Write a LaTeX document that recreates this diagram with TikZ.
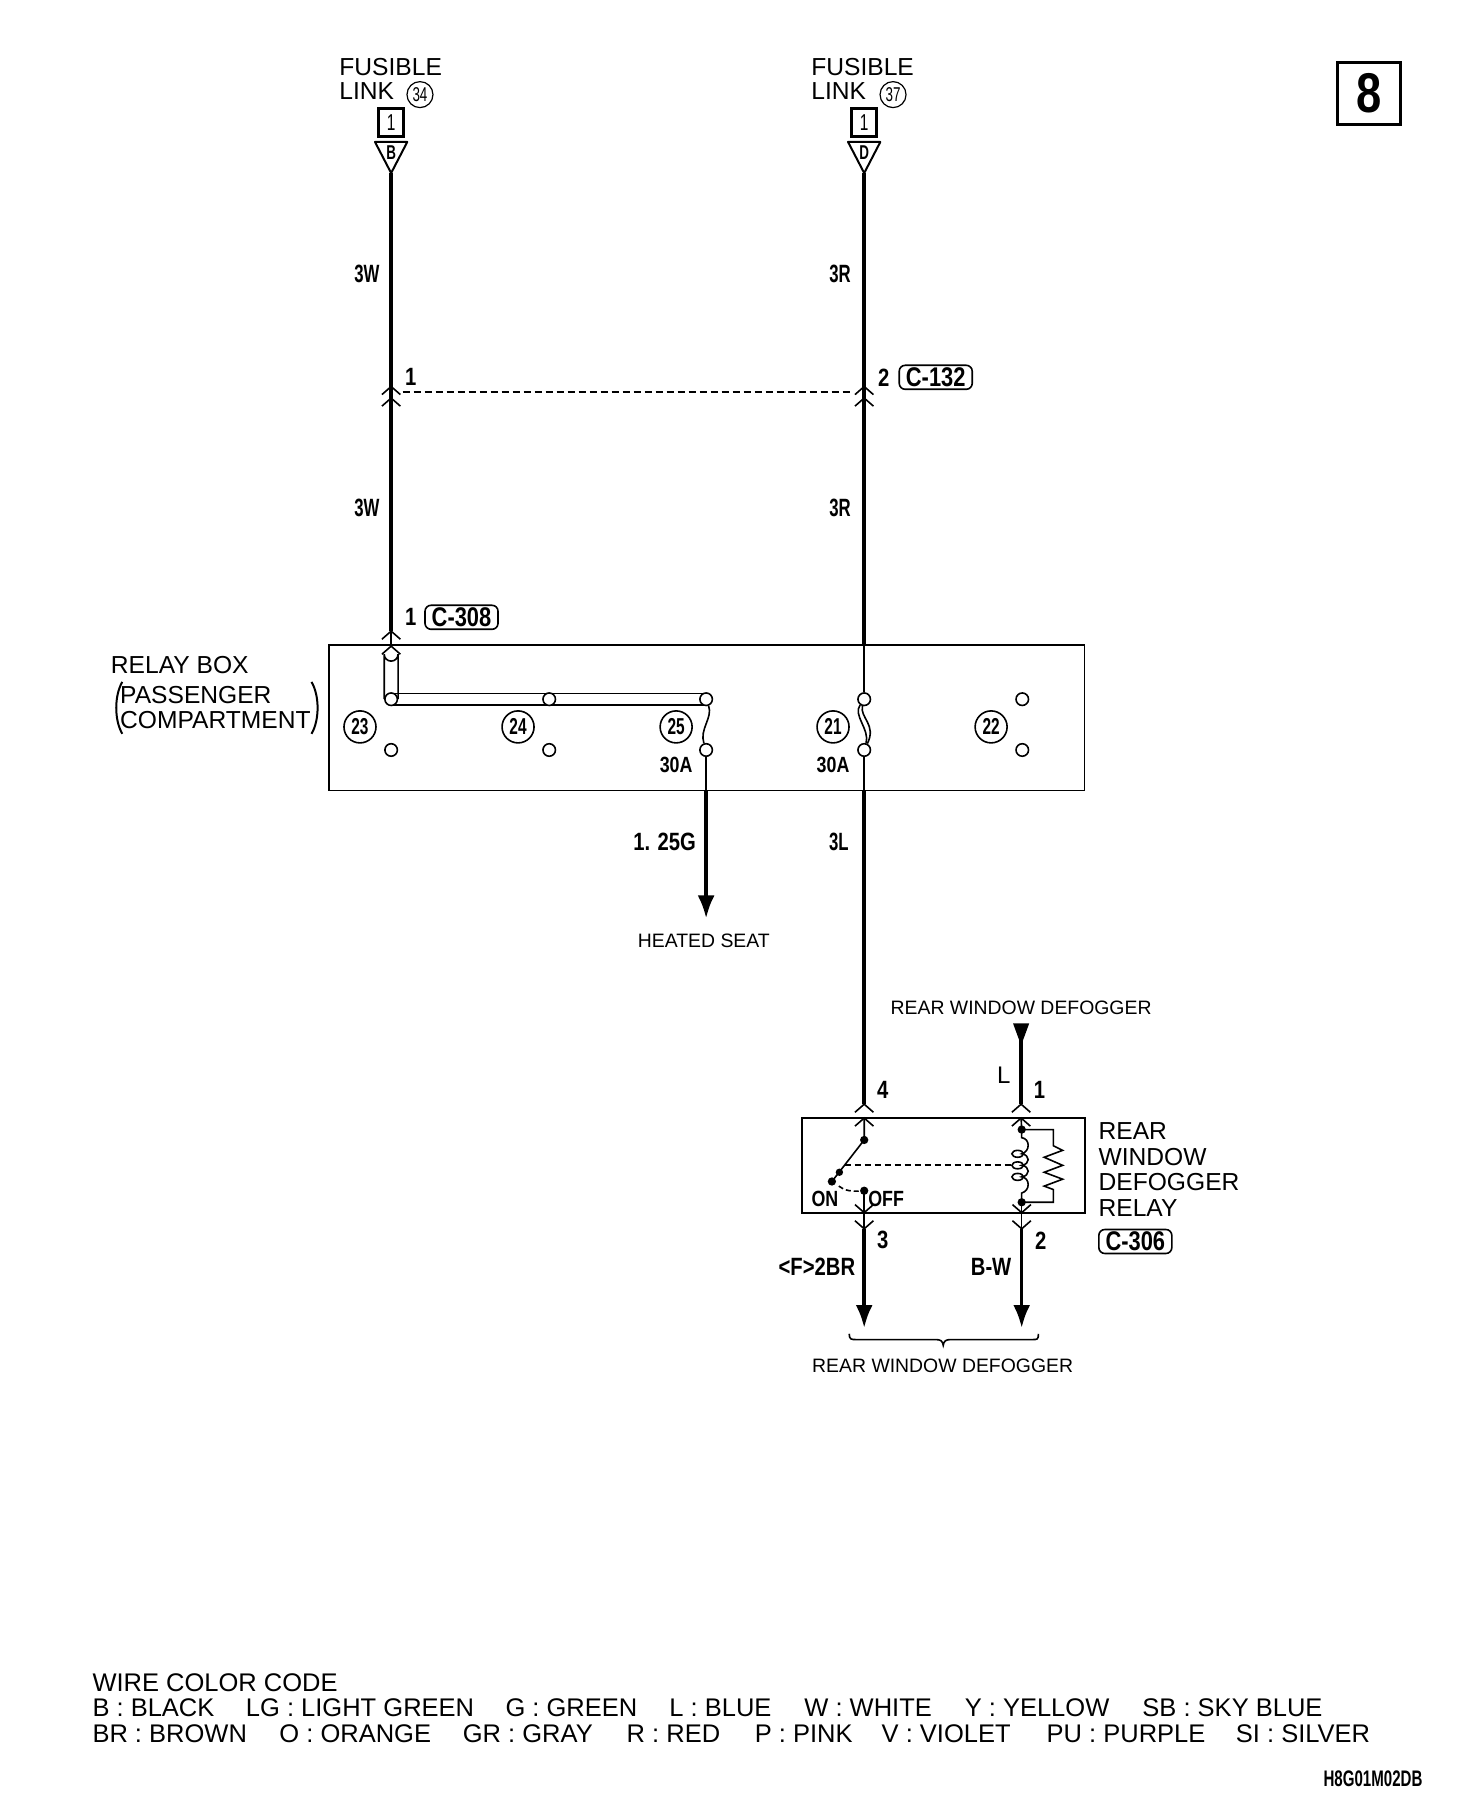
\documentclass[tikz,border=0pt]{standalone}
\usepackage{fontspec}
\setmainfont{Liberation Sans}
\newfontfamily\narrowfont[FakeStretch=0.67]{Liberation Sans}
\newfontfamily\midfont[FakeStretch=0.81]{Liberation Sans}
\usetikzlibrary{arrows.meta}
\tikzset{
  wire/.style={line width=3.6pt},
  conn/.style={line width=1.6pt},
  endtip/.style={-{Latex[length=23pt,width=17pt]}},
  term/.style={circle,draw,fill=white,line width=1.6pt,inner sep=0pt,minimum size=12.5pt},
  cnum/.style={circle,draw,line width=1.6pt,inner sep=0pt,minimum size=32pt,font=\narrowfont\bfseries\fontsize{23}{23}\selectfont},
  cnumsm/.style={circle,draw,line width=1.2pt,inner sep=0pt,minimum size=26pt,font=\narrowfont\fontsize{20}{20}\selectfont},
  lbl/.style={inner sep=0pt,font=\narrowfont\bfseries\fontsize{25}{25}\selectfont},
  midlbl/.style={inner sep=0pt,font=\midfont\bfseries\fontsize{25}{25}\selectfont},
  smlbl/.style={inner sep=0pt,font=\midfont\bfseries\fontsize{22}{22}\selectfont},
  txt/.style={inner sep=0pt,anchor=base west,font=\fontsize{24.6}{24.6}\selectfont},
  smtxt/.style={inner sep=0pt,anchor=base,font=\fontsize{19.4}{19.4}\selectfont},
  legend/.style={inner sep=0pt,anchor=base west,font=\fontsize{25.5}{25.5}\selectfont},
  conbox/.style={draw,rounded corners=6pt,line width=1.6pt,inner sep=0pt,minimum width=73pt,minimum height=24pt,font=\midfont\bfseries\fontsize{27}{27}\selectfont}
}
\newcommand{\chevup}[1]{\draw[conn,shift={(#1)}] (-8,7)--(0,0)--(8,7);}
\newcommand{\chevdown}[1]{\draw[conn,shift={(#1)}] (-8,-7)--(0,0)--(8,-7);}
\begin{document}
\begin{tikzpicture}[x=1.1537pt,y=-1.1537pt]
  \useasboundingbox (0,0) rectangle (1262,1567);

  % page mark
  \node[draw,line width=2.2pt,minimum width=63pt,minimum height=62pt,inner sep=0pt,font=\midfont\bfseries\fontsize{56}{56}\selectfont] (page) at (1186.5,81) {8};

  % fusible links
  \node[txt] (fl34a) at (294,65) {FUSIBLE};
  \node[txt] (fl34b) at (294,86) {LINK};
  \node[cnumsm] (n34) at (364,82) {34};
  \node[draw,line width=2.6pt,inner sep=0pt,minimum width=25pt,minimum height=28pt,font=\narrowfont\fontsize{23}{23}\selectfont] (b34) at (339,106) {1};
  \coordinate (tip34) at (339,150);
  \draw[line width=2pt,line join=round] (325,123)--(353,123)--(tip34)--cycle;
  \node[inner sep=0pt,font=\narrowfont\bfseries\fontsize{20}{20}\selectfont] (tb) at (339,132) {B};

  \node[txt] (fl37a) at (703,65) {FUSIBLE};
  \node[txt] (fl37b) at (703,86) {LINK};
  \node[cnumsm] (n37) at (774,82) {37};
  \node[draw,line width=2.6pt,inner sep=0pt,minimum width=25pt,minimum height=28pt,font=\narrowfont\fontsize{23}{23}\selectfont] (b37) at (749,106) {1};
  \coordinate (tip37) at (749,150);
  \draw[line width=2pt,line join=round] (735,123)--(763,123)--(tip37)--cycle;
  \node[inner sep=0pt,font=\narrowfont\bfseries\fontsize{20}{20}\selectfont] (td) at (749,132) {D};

  % connector C-132
  \coordinate (c1) at (339,335);
  \coordinate (c2) at (749,335);
  \coordinate (c1b) at (339,345);
  \coordinate (c2b) at (749,345);
  \coordinate (c3) at (339,547);
  \coordinate (c3b) at (339,560);
  \coordinate (c4) at (749,559);
  \draw[wire] (tip34)--(c3);
  \draw[wire] (tip37)--(c4);
  \chevup{c1} \chevup{c1b} \chevup{c2} \chevup{c2b}
  \draw[conn,dashed,dash pattern=on 7pt off 4pt] (349,340)--(739,340);
  \node[lbl] (l3w) at (318,237) {3W};
  \node[lbl] (l3r) at (728,237) {3R};
  \node[lbl] (l3w2) at (318,440) {3W};
  \node[lbl] (l3r2) at (728,440) {3R};
  \node[midlbl] (lp1) at (356,327) {1};
  \node[midlbl] (lp2) at (766,327) {2};
  \node[conbox] (c132) at (811,327) {C-132};

  % relay box
  \draw[conn] (285,559) rectangle (940,685);
  \draw[line width=2.2pt] (285,559)--(940,559);
  \node[txt] (rb1) at (96,584) {RELAY BOX};
  \node[txt] (rb2) at (104,610) {PASSENGER};
  \node[txt] (rb3) at (104,631) {COMPARTMENT};
  \draw[line width=2pt] (106,591) .. controls (99,603) and (99,624) .. (106,636);
  \draw[line width=2pt] (270,591) .. controls (277,603) and (277,624) .. (270,636);
  \node[midlbl] (lp3) at (356,535) {1};
  \node[conbox] (c308) at (400,535) {C-308};

  \draw[conn] (c3)--(c3b);
  \chevup{c3} \chevup{c3b}
  \draw[conn] (333,606)--(333,567) arc (180:0:6) --(345,606);
  \draw[conn] (339,601)--(612,601);
  \draw[line width=2.2pt] (339,611)--(612,611);

  \foreach \tname/\tx in {t23/339,t24/476,t25/612,t21/749,t22/886} {
    \node[term] (\tname a) at (\tx,606) {};
    \node[term] (\tname b) at (\tx,650) {};
  }
  \foreach \nname/\nx/\ntext in {n23/312/23,n24/449/24,n25/586/25,n21/722/21,n22/859/22} {
    \node[cnum] (\nname) at (\nx,630) {\ntext};
  }
  \node[smlbl] (f25) at (586,663) {30A};
  \node[smlbl] (f21) at (722,663) {30A};

  % fuses
  \draw[conn] (t25a) .. controls (618,622) and (606,632) .. (t25b);
  \draw[conn] (t21a) .. controls (739,620) and (754,632) .. (t21b);
  \draw[conn] (t21a) .. controls (745,622) and (760,628) .. (t21b);
  \draw[conn] (c4)--(t21a);

  % outputs
  \coordinate (o25) at (612,685);
  \coordinate (o21) at (749,685);
  \coordinate (a25) at (612,796);
  \draw[conn] (t25b)--(o25);
  \draw[conn] (t21b)--(o21);
  \draw[wire,endtip] (o25)--(a25);
  \coordinate (r4) at (749,957);
  \coordinate (r4b) at (749,969);
  \draw[wire] (o21)--(r4);
  \node[midlbl] (l125) at (576,730) {1. 25G};
  \node[lbl] (l3l) at (727,730) {3L};
  \node[smtxt] (hs) at (610,821.5) {HEATED SEAT};

  % defogger input
  \node[smtxt] (rw1) at (885,879.5) {REAR WINDOW DEFOGGER};
  \coordinate (r1) at (885,957);
  \coordinate (r1b) at (885,969);
  \coordinate (i1) at (885,900);
  \fill (878,887)--(892,887)--(885,906)--cycle;
  \draw[wire] (i1)--(r1);
  \node[inner sep=0pt,font=\fontsize{24}{24}\selectfont] (ll) at (870,932) {L};
  \node[midlbl] (lp4) at (765,945) {4};
  \node[midlbl] (lp5) at (901,945) {1};

  % relay
  \node[draw,line width=1.8pt,inner sep=0pt,minimum width=283pt,minimum height=94.6pt] (relay) at (817.5,1010) {};
  \chevup{r4} \chevup{r4b} \chevup{r1} \chevup{r1b}
  \foreach \ry/\rtext in {988/REAR,1010/WINDOW,1032/DEFOGGER,1054/RELAY} {
    \node[txt] at (952,\ry) {\rtext};
  }
  \node[conbox] (c306) at (984,1076) {C-306};
  \coordinate (sw1) at (749,988);
  \coordinate (sw2) at (721,1024);
  \coordinate (sw3) at (727.5,1016);
  \coordinate (sw4) at (732,1010);
  \coordinate (off) at (749,1032);
  \coordinate (r3) at (749,1051);
  \coordinate (r3b) at (749,1065);
  \coordinate (r2) at (885.5,1051);
  \coordinate (r2b) at (885.5,1065);
  \coordinate (d1) at (885.5,979);
  \coordinate (d2) at (885.5,1042);
  \coordinate (cl2) at (879,1010);
  \draw[conn] (r4b)--(sw1)--(sw2);
  \draw[conn] (off)--(r3)--(r3b);
  \draw[conn] (r1b)--(d1);
  \draw[conn] (d2)--(r2)--(r2b);
  \fill (sw1) circle (3.6);
  \fill (sw2) circle (3.6);
  \fill (sw3) circle (3.2);
  \fill (off) circle (3.6);
  \fill (d1) circle (3.6);
  \fill (d2) circle (3.6);
  \chevdown{r3} \chevdown{r3b} \chevdown{r2} \chevdown{r2b}
  \draw[line width=2pt,dashed,dash pattern=on 6pt off 4pt] (sw4)--(cl2);
  \draw[conn,dashed,dash pattern=on 5pt off 3pt] (727,1028) .. controls (732,1032) and (738,1033) .. (off);
  \node[smlbl] (lon) at (715,1039) {ON};
  \node[smlbl] (loff) at (768,1039) {OFF};
  % coil
  \draw[conn] (d1)--(885.5,986) .. controls (893,987) and (893,998) .. (885.5,1000)
     .. controls (893,1001) and (893,1009) .. (885.5,1010)
     .. controls (893,1011) and (893,1019) .. (885.5,1020)
     .. controls (893,1021) and (893,1032) .. (885.5,1034)--(d2);
  \draw[conn] (882,1000) ellipse (5 and 3);
  \draw[conn] (882,1010) ellipse (5 and 3);
  \draw[conn] (882,1020) ellipse (5 and 3);
  % resistor
  \draw[conn] (d1)--(913,979)--(913,993)--(921,997)--(905,1003)--(921,1010)--(905,1016)--(921,1022)--(905,1028)--(913,1031)--(913,1042)--(d2);

  % outputs to defogger
  \coordinate (a3) at (749,1151);
  \coordinate (a2) at (885.5,1151);
  \draw[wire,endtip] (r3b)--(a3);
  \draw[wire,endtip] (r2b)--(a2);
  \node[midlbl] (lp6) at (765,1075) {3};
  \node[midlbl] (lp7) at (902,1075) {2};
  \node[midlbl] (lf) at (708,1098) {<F>2BR};
  \node[midlbl] (lbw) at (859,1098) {B-W};
  \draw[conn] (736,1156) .. controls (736,1161) and (738,1161) .. (742,1161) -- (811,1161)
     .. controls (815,1161) and (817,1162) .. (817.5,1166) .. controls (818,1162) and (820,1161) .. (824,1161)
     -- (895,1161) .. controls (899,1161) and (900,1161) .. (900,1156);
  \node[smtxt] (rw2) at (817,1189.5) {REAR WINDOW DEFOGGER};

  % wire colours
  \node[legend] (lg0) at (80,1466) {WIRE COLOR CODE};
  \foreach \lx/\ltext in {80/B : BLACK,213/LG : LIGHT GREEN,438/G : GREEN,580/L : BLUE,697/W : WHITE,836/Y : YELLOW,990/SB : SKY BLUE} {
    \node[legend] at (\lx,1488) {\ltext};
  }
  \foreach \lx/\ltext in {80/BR : BROWN,242/O : ORANGE,401/GR : GRAY,543/R : RED,654/P : PINK,764/V : VIOLET,907/PU : PURPLE,1071/SI : SILVER} {
    \node[legend] at (\lx,1510) {\ltext};
  }
  \node[inner sep=0pt,anchor=east,font=\narrowfont\bfseries\fontsize{22.5}{22.5}\selectfont] (code) at (1233,1542) {H8G01M02DB};
\end{tikzpicture}
\end{document}
